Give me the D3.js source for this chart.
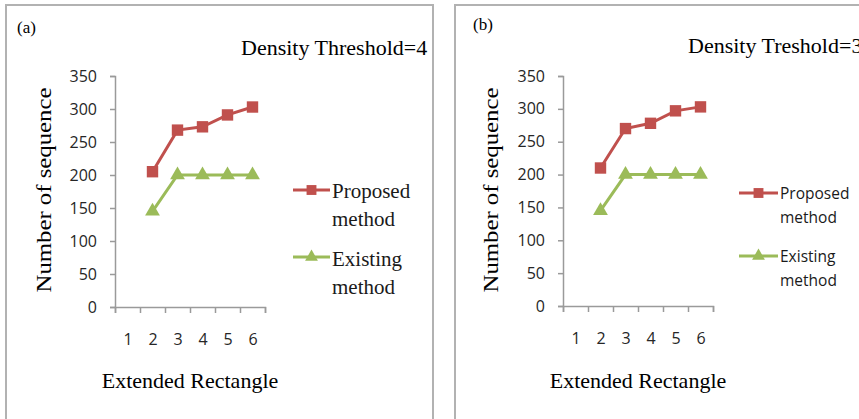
<!DOCTYPE html>
<html>
<head>
<meta charset="utf-8">
<script src="https://cdn.jsdelivr.net/npm/d3@7"></script>
<style>
  body { margin: 0; background: #fff; }
  svg { display: block; }
</style>
</head>
<body>
<div id="chart"></div>
<script>
// Данные.
const categories = [1, 2, 3, 4, 5, 6]
const proposedA = [null, 205, 268, 273, 291, 303]
const existingA = [null, 145, 200, 200, 200, 200]
const proposedB = [null, 210, 270, 278, 297, 303]
const existingB = [null, 145, 200, 200, 200, 200]
const yTicks = [0, 50, 100, 150, 200, 250, 300, 350]
const seriesNames = ['Proposed method', 'Existing method']

const RED = '#c0504d'
const GREEN = '#9bbb59'
const AXIS = '#9a9a9a'
const SERIF = '"Liberation Serif", "Times New Roman", serif'
const SANS = '"Open Sans", "Liberation Sans", sans-serif'

const W = 859, H = 419

let svg = d3.select('#chart')
    .append('svg')
    .attr('width', W)
    .attr('height', H)

// рамки панелей
svg.append('rect')
    .attr('x', 6).attr('y', 5)
    .attr('width', 427).attr('height', 430)
    .attr('fill', 'none').attr('stroke', '#b2b2b2').attr('stroke-width', 2)
svg.append('rect')
    .attr('x', 455).attr('y', 5)
    .attr('width', 430).attr('height', 430)
    .attr('fill', 'none').attr('stroke', '#b2b2b2').attr('stroke-width', 2)

function panel(p){
    let g = svg.append('g').attr('transform', `translate(${p.ox},0)`)

    let x = d3.scaleLinear().domain([0.5, 6.5]).range([115, 265])
    let y = d3.scaleLinear().domain([0, 350]).range([p.y0, 76])

    // ось Y
    let ya = g.append('g')
        .attr('transform', 'translate(115,0)')
        .call(d3.axisLeft(y).tickValues(yTicks).tickSize(5).tickPadding(13))
    ya.select('.domain').attr('stroke', AXIS).attr('stroke-width', 1.5)
    ya.selectAll('.tick line').attr('stroke', AXIS).attr('stroke-width', 1.5)
    ya.selectAll('.tick text')
        .style('font-family', SANS).style('font-size', '16px').attr('fill', '#262626')

    // ось X: засечки между категориями
    let bounds = d3.range(0.5, 7, 1)
    let xa = g.append('g')
        .attr('transform', `translate(0,${p.y0})`)
        .call(d3.axisBottom(x).tickValues(bounds).tickSize(6).tickFormat(''))
    xa.select('.domain').attr('stroke', AXIS).attr('stroke-width', 1.5)
    xa.selectAll('.tick line').attr('stroke', AXIS).attr('stroke-width', 1.5)

    // подписи категорий
    let xl = g.append('g')
        .attr('transform', `translate(0,${p.y0})`)
        .call(d3.axisBottom(x).tickValues(categories).tickSize(0).tickPadding(27).tickFormat(d3.format('d')))
    xl.select('.domain').remove()
    xl.selectAll('.tick text')
        .style('font-family', SANS).style('font-size', '16px').attr('fill', '#262626')

    // линии
    let line = d3.line()
        .defined(d => d.v != null)
        .x(d => x(d.c))
        .y(d => y(d.v))

    let sets = [
        {vals: p.proposed, color: RED, mark: d3.symbolSquare, size: 130},
        {vals: p.existing, color: GREEN, mark: d3.symbolTriangle, size: 95}
    ]
    sets.forEach(s => {
        let pts = categories.map((c, i) => ({c: c, v: s.vals[i]}))
        g.append('path')
            .datum(pts)
            .attr('d', line)
            .attr('fill', 'none')
            .attr('stroke', s.color)
            .attr('stroke-width', 3)
        g.selectAll(null)
            .data(pts.filter(d => d.v != null))
            .enter().append('path')
            .attr('d', d3.symbol().type(s.mark).size(s.size))
            .attr('transform', d => `translate(${x(d.c)},${y(d.v)})`)
            .attr('fill', s.color)
    })

    // подписи осей
    g.append('text')
        .attr('transform', `translate(${p.ytX},190) rotate(-90)`)
        .attr('text-anchor', 'middle')
        .attr('textLength', 205)
        .attr('lengthAdjust', 'spacingAndGlyphs')
        .style('font-family', SERIF).style('font-size', '22px')
        .text('Number of sequence')
    g.append('text')
        .attr('x', 190).attr('y', 388)
        .attr('text-anchor', 'middle')
        .style('font-family', SERIF).style('font-size', '22px')
        .text('Extended Rectangle')

    // заголовок и буква панели
    g.append('text')
        .attr('x', p.titleX).attr('y', p.titleY)
        .style('font-family', SERIF).style('font-size', '22px')
        .text(p.title)
    g.append('text')
        .attr('x', p.tagX).attr('y', p.tagY)
        .style('font-family', SERIF).style('font-size', '17px')
        .text(p.tag)

    // легенда
    let L = p.legend
    sets.forEach((s, i) => {
        let ly = L.lineY[i]
        g.append('line')
            .attr('x1', L.x1).attr('x2', L.x2)
            .attr('y1', ly).attr('y2', ly)
            .attr('stroke', s.color).attr('stroke-width', 3)
        g.append('path')
            .attr('d', d3.symbol().type(s.mark).size(s.size * 0.75))
            .attr('transform', `translate(${(L.x1 + L.x2) / 2},${ly})`)
            .attr('fill', s.color)
        let words = seriesNames[i].split(' ')
        words.forEach((w, j) => {
            g.append('text')
                .attr('x', L.tx).attr('y', L.textY[i] + j * L.step)
                .style('font-family', L.font).style('font-size', L.size)
                .attr('fill', '#1a1a1a')
                .text(w)
        })
    })
}

panel({
    ox: 0, y0: 307, ytX: 51,
    proposed: proposedA, existing: existingA,
    title: 'Density Threshold=4', titleX: 241, titleY: 55,
    tag: '(a)', tagX: 17, tagY: 33,
    legend: {x1: 293, x2: 330, tx: 332, lineY: [190, 257], textY: [198, 266], step: 28,
             font: SERIF, size: '21px'}
})

panel({
    ox: 448, y0: 306, ytX: 50,
    proposed: proposedB, existing: existingB,
    title: 'Density Treshold=3', titleX: 240, titleY: 53,
    tag: '(b)', tagX: 25, tagY: 30,
    legend: {x1: 291, x2: 330, tx: 332, lineY: [193, 256], textY: [199, 262], step: 24,
             font: SANS, size: '15.5px'}
})
</script>
</body>
</html>
